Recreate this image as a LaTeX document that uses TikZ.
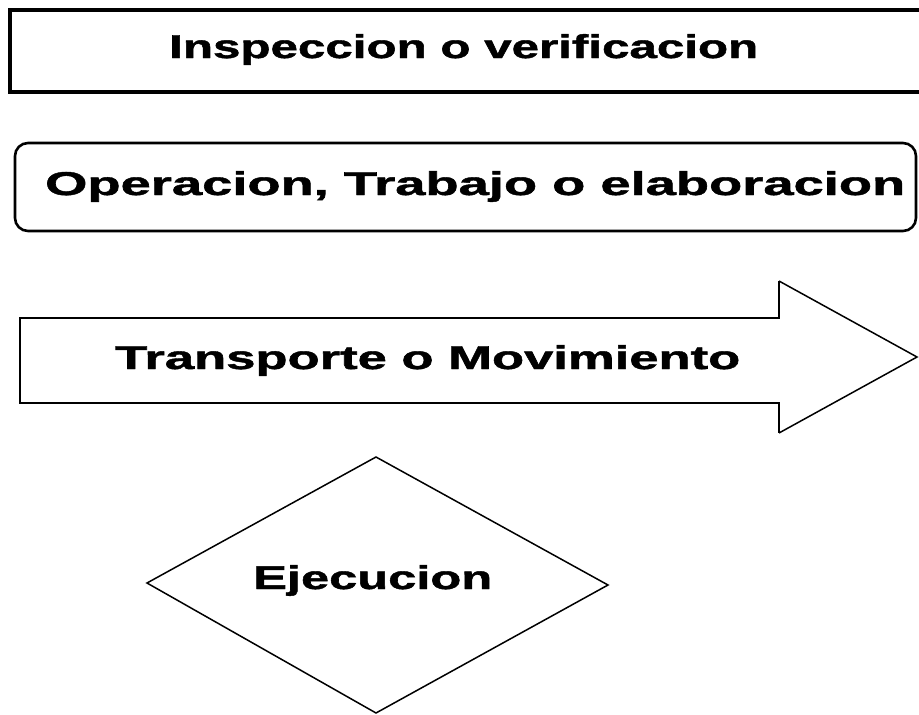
\documentclass[tikz,border=0pt]{standalone}
\usepackage{fontspec}
\setmainfont{Liberation Sans}
\begin{document}
\begin{tikzpicture}[x=1pt,y=-1pt,
  lbl/.style={anchor=base west,inner sep=0pt,font=\fontsize{33}{33}\selectfont\bfseries\addfontfeature{FakeBold=1.2}},
  thickline/.style={line width=4pt},
  medline/.style={line width=2.6pt},
  thinline/.style={line width=1.5pt}]
\useasboundingbox (0,0) rectangle (919,715);
% Box 1 (right edge off page)
\draw[thickline] (925,10) -- (9.5,10) -- (9.5,91.5) -- (925,91.5);
\node[lbl] (insp) at (169,58) {\resizebox{589pt}{\height}{Inspeccion o verificacion}};
% Box 2 rounded
\draw[medline,rounded corners=13pt] (15,143) rectangle (916,231);
\node[lbl] (oper) at (45,195) {\resizebox{860pt}{\height}{Operacion, Trabajo o elaboracion}};
% Arrow
\draw[medline] (779,281) -- (779,318) -- (20,318) -- (20,403) -- (779,403) -- (779,433);
\draw[thinline] (779,281) -- (917,357) -- (779,433);
\node[lbl] (trans) at (115,369) {\resizebox{625pt}{\height}{Transporte o Movimiento}};
% Diamond
\draw[thinline] (376,457) -- (608,585) -- (376,713) -- (147,583) -- cycle;
\node[lbl] (ejec) at (253,589) {\resizebox{239pt}{\height}{Ejecucion}};
\end{tikzpicture}
\end{document}
